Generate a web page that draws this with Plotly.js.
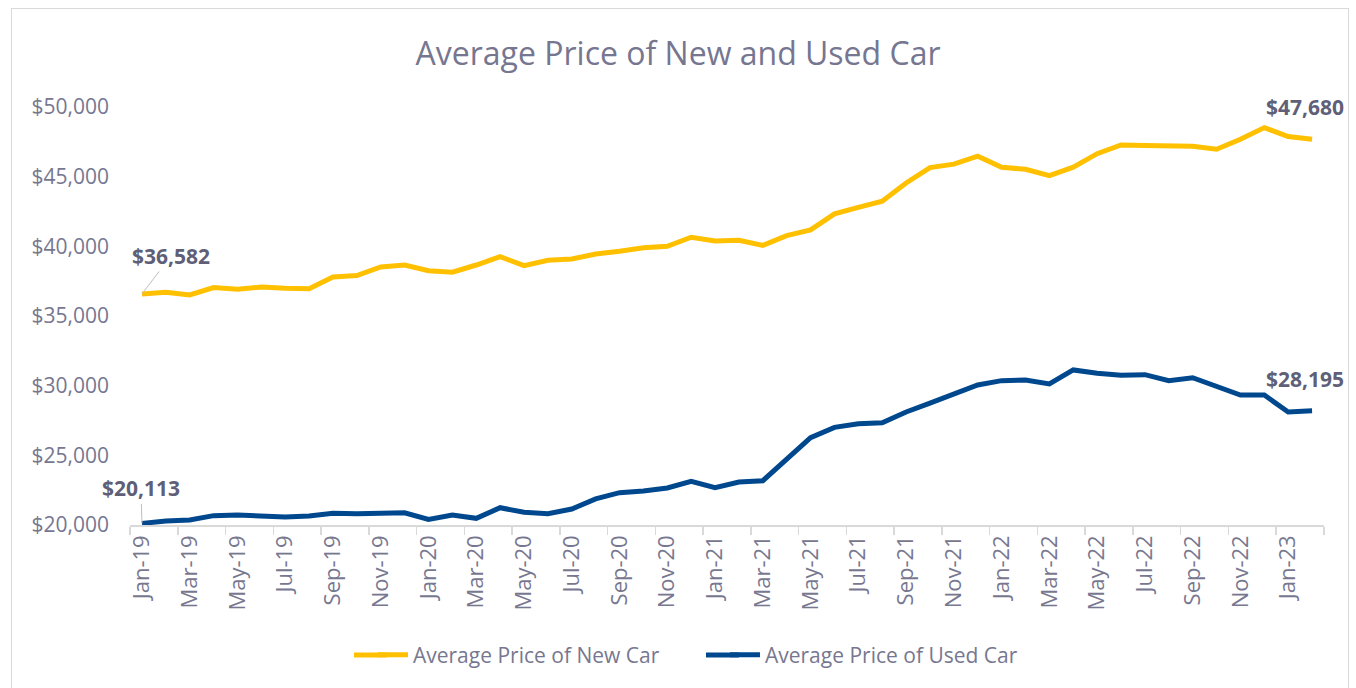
<!DOCTYPE html>
<html>
<head>
<meta charset="utf-8">
<script src="https://cdn.plot.ly/plotly-3.0.1.min.js"></script>
<style>
  html, body { margin: 0; padding: 0; background: #ffffff; }
  #wrap { position: relative; width: 1356px; height: 688px; overflow: hidden; }
  #frame { position: absolute; left: 11px; top: 8px; width: 1338px; height: 700px; border: 1px solid #d9d9d9; box-sizing: border-box; pointer-events: none; }
  #chart { position: absolute; left: 0; top: 0; width: 1356px; height: 688px; }
</style>
</head>
<body>
<div id="wrap">
  <div id="chart"></div>
  <div id="frame"></div>
</div>
<script>
const months = [
  "Jan-19","Feb-19","Mar-19","Apr-19","May-19","Jun-19","Jul-19","Aug-19","Sep-19","Oct-19","Nov-19","Dec-19",
  "Jan-20","Feb-20","Mar-20","Apr-20","May-20","Jun-20","Jul-20","Aug-20","Sep-20","Oct-20","Nov-20","Dec-20",
  "Jan-21","Feb-21","Mar-21","Apr-21","May-21","Jun-21","Jul-21","Aug-21","Sep-21","Oct-21","Nov-21","Dec-21",
  "Jan-22","Feb-22","Mar-22","Apr-22","May-22","Jun-22","Jul-22","Aug-22","Sep-22","Oct-22","Nov-22","Dec-22",
  "Jan-23","Feb-23"
];

const newCarPrice = [
  36582, 36700, 36510, 37040, 36920, 37085, 36990, 36960, 37800, 37900, 38520, 38660,
  38250, 38140, 38660, 39260, 38610, 39000, 39090, 39450, 39650, 39900, 40000, 40650,
  40390, 40440, 40070, 40770, 41180, 42330, 42800, 43240, 44550, 45650, 45900, 46470,
  45680, 45530, 45080, 45680, 46650, 47280, 47230, 47230, 47180, 46970, 47690, 48520,
  47880, 47680
];

const usedCarPrice = [
  20113, 20290, 20360, 20670, 20720, 20650, 20570, 20650, 20840, 20810, 20840, 20880,
  20400, 20720, 20480, 21240, 20910, 20810, 21150, 21870, 22320, 22440, 22660, 23140,
  22680, 23090, 23180, 24670, 26270, 27010, 27270, 27340, 28110, 28740, 29380, 30050,
  30360, 30410, 30120, 31130, 30890, 30740, 30790, 30360, 30570, 29930, 29330, 29330,
  28110, 28195
];

const seriesNames = ["Average Price of New Car", "Average Price of Used Car"];
const seriesColors = ["#FFC000", "#00488E"];
const chartTitle = "Average Price of New and Used Car";

const fontFamily = "'Open Sans', 'Noto Sans', sans-serif";
const textGray = "#777790";
const labelGray = "#5f5f78";

function fmt(v) { return "$" + v.toLocaleString("en-US"); }

const traces = [
  {
    x: months, y: newCarPrice, name: seriesNames[0], type: "scatter", mode: "lines",
    line: { color: seriesColors[0], width: 5 }
  },
  {
    x: months, y: usedCarPrice, name: seriesNames[1], type: "scatter", mode: "lines",
    line: { color: seriesColors[1], width: 5 }
  }
];

const last = months.length - 1;

const annotations = [
  {
    x: months[0], y: newCarPrice[0], text: "<b>" + fmt(newCarPrice[0]) + "</b>",
    showarrow: true, arrowhead: 0, arrowwidth: 1, arrowcolor: "#bfbfbf",
    ax: 29, ay: -38, standoff: 0,
    font: { family: fontFamily, size: 21, color: labelGray }
  },
  {
    x: months[0], y: usedCarPrice[0], text: "<b>" + fmt(usedCarPrice[0]) + "</b>",
    showarrow: true, arrowhead: 0, arrowwidth: 1, arrowcolor: "#bfbfbf",
    ax: -1, ay: -35, standoff: 0,
    font: { family: fontFamily, size: 21, color: labelGray }
  },
  {
    x: months[last], y: newCarPrice[last], text: "<b>" + fmt(newCarPrice[last]) + "</b>",
    showarrow: false, xanchor: "center", yanchor: "middle", xshift: -7, yshift: 32,
    font: { family: fontFamily, size: 21, color: labelGray }
  },
  {
    x: months[last], y: usedCarPrice[last], text: "<b>" + fmt(usedCarPrice[last]) + "</b>",
    showarrow: false, xanchor: "center", yanchor: "middle", xshift: -7, yshift: 32,
    font: { family: fontFamily, size: 21, color: labelGray }
  }
];

// legend swatch extensions (legend styling only, not data marks)
const legendY = -0.311;
const shapes = [
  { type: "line", xref: "paper", yref: "paper", x0: 0.1876, x1: 0.215, y0: legendY, y1: legendY,
    line: { color: seriesColors[0], width: 5 } },
  { type: "line", xref: "paper", yref: "paper", x0: 0.4824, x1: 0.510, y0: legendY, y1: legendY,
    line: { color: seriesColors[1], width: 5 } }
];

const layout = {
  width: 1356, height: 688,
  margin: { l: 130, r: 32, t: 107, b: 163 },
  paper_bgcolor: "rgba(0,0,0,0)",
  plot_bgcolor: "rgba(0,0,0,0)",
  font: { family: fontFamily, color: textGray },
  title: {
    text: chartTitle,
    x: 681, xanchor: "center", xref: "container",
    y: 52, yref: "container", yanchor: "middle",
    font: { family: fontFamily, size: 32, color: "#767690" }
  },
  xaxis: {
    type: "category",
    range: [-0.5, 49.5],
    automargin: false,
    showgrid: false, zeroline: false,
    showline: true, linecolor: "#d9d9d9", linewidth: 1.5,
    ticks: "outside", ticklen: 8, tickcolor: "#d9d9d9", tickwidth: 1.5,
    tickson: "boundaries",
    dtick: 2,
    tickangle: -90,
    tickfont: { family: fontFamily, size: 22, color: textGray },
    fixedrange: true
  },
  yaxis: {
    range: [20000, 50000],
    automargin: false,
    dtick: 5000,
    tickprefix: "$",
    tickformat: ",d",
    showgrid: false, zeroline: false, showline: false,
    ticks: "",
    ticklabelstandoff: 20,
    tickfont: { family: fontFamily, size: 21, color: textGray },
    fixedrange: true
  },
  showlegend: true,
  legend: {
    orientation: "h",
    x: 0.2035, xanchor: "left",
    y: legendY, yanchor: "middle",
    font: { family: fontFamily, size: 21, color: textGray },
    entrywidth: 307,
    entrywidthmode: "pixels",
    tracegroupgap: 0
  },
  shapes: shapes,
  annotations: annotations
};

Plotly.newPlot("chart", traces, layout, { displayModeBar: false, staticPlot: true });
</script>
</body>
</html>
